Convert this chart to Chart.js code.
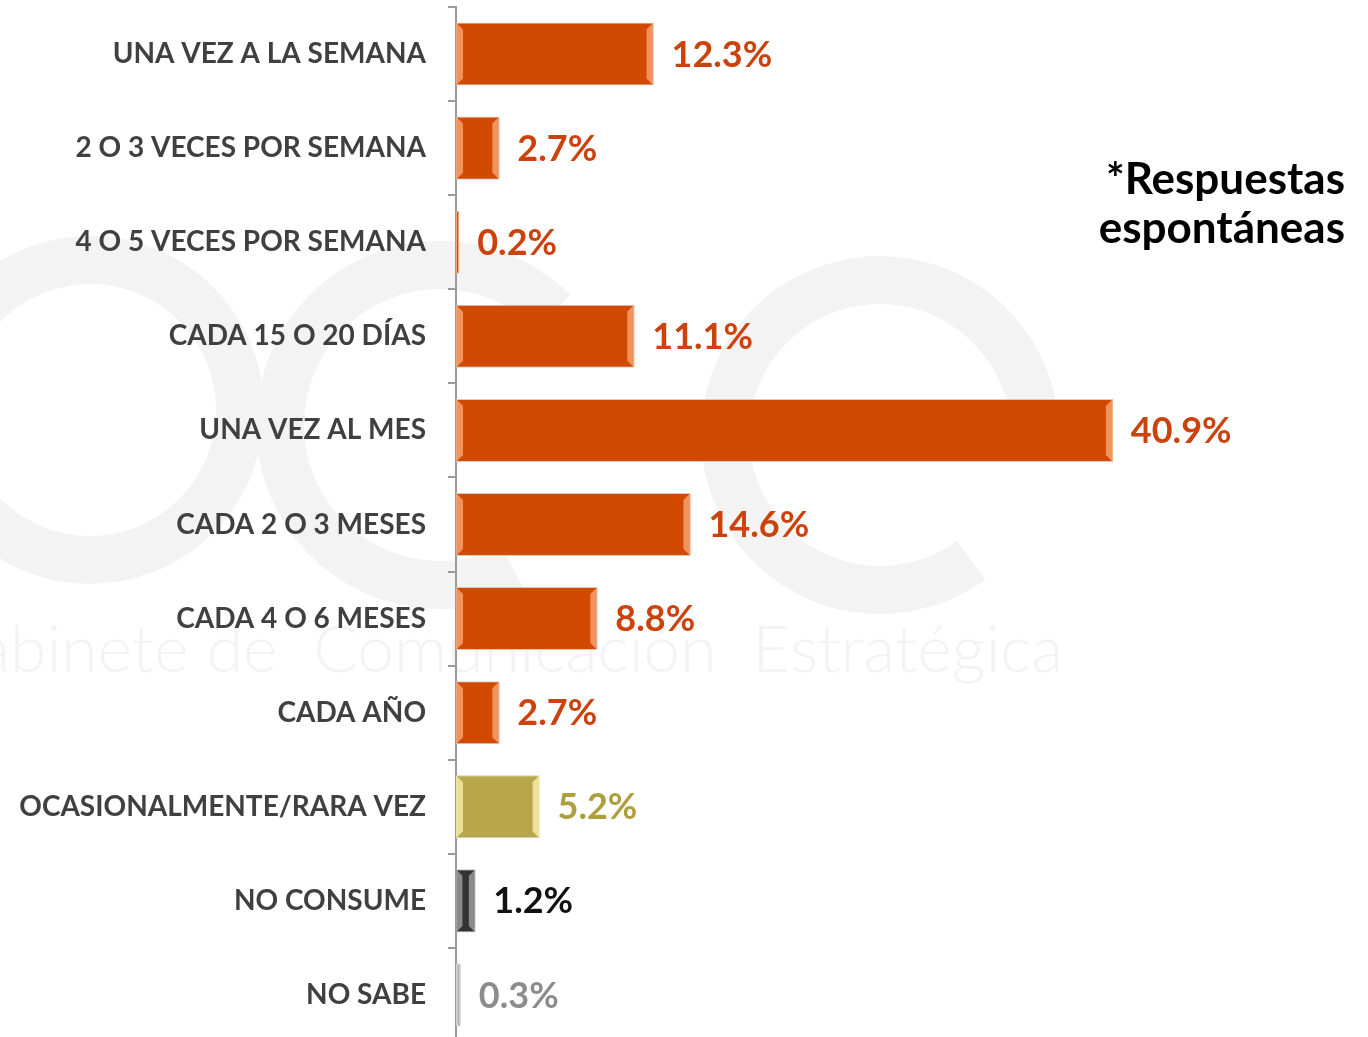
<!DOCTYPE html>
<html>
<head>
<meta charset="utf-8"/>
<script src="https://cdn.jsdelivr.net/npm/chart.js"></script>
<style>
  html, body { margin: 0; padding: 0; background: #ffffff; overflow: hidden; }
  #wrap { width: 1368px; height: 1045px; position: relative; }
</style>
</head>
<body>
<div id="wrap"><canvas id="myChart"></canvas></div>
<script>
// data
const categories = [
  "UNA VEZ A LA SEMANA",
  "2 O 3 VECES POR SEMANA",
  "4 O 5 VECES POR SEMANA",
  "CADA 15 O 20 DÍAS",
  "UNA VEZ AL MES",
  "CADA 2 O 3 MESES",
  "CADA 4 O 6 MESES",
  "CADA AÑO",
  "OCASIONALMENTE/RARA VEZ",
  "NO CONSUME",
  "NO SABE"
];
const values = [12.3, 2.7, 0.2, 11.1, 40.9, 14.6, 8.8, 2.7, 5.2, 1.2, 0.3];
const barColors = ["#d24a02","#d24a02","#d24a02","#d24a02","#d24a02","#d24a02","#d24a02","#d24a02","#b8a64c","#333333","#b4b4b4"];
const bevelColors = ["#f7a070","#f7a070","#f7a070","#f7a070","#f7a070","#f7a070","#f7a070","#f7a070","#f4eaa4","#9a9a9a","#d8d8d8"];
const labelColors = ["#cc420c","#cc420c","#cc420c","#cc420c","#cc420c","#cc420c","#cc420c","#cc420c","#ae9f3e","#111111","#8c8c8c"];
const noteLines = ["*Respuestas", "espontáneas"];

const FONT = "'Lato', 'DejaVu Sans', sans-serif";

// faint logo in the background
const watermark = {
  id: "watermark",
  beforeDraw(chart) {
    const c = chart.ctx;
    c.save();
    c.strokeStyle = "#f3f3f3";
    c.fillStyle = "#f3f3f3";
    c.lineWidth = 48;
    // g
    c.beginPath(); c.arc(90, 410, 150, 0, Math.PI * 2); c.stroke();
    // c
    c.beginPath(); c.arc(440, 425, 160, 0.35 * Math.PI, 1.75 * Math.PI); c.stroke();
    // e
    c.beginPath(); c.arc(880, 435, 155, 0.3 * Math.PI, 2 * Math.PI); c.stroke();
    c.fillRect(725, 420, 310, 40);
    c.font = "300 66px " + FONT;
    c.fillText("Gabinete de  Comunicación  Estratégica", -70, 672);
    c.restore();
  }
};

// light bevel strips at bar ends
const bevel = {
  id: "bevel",
  afterDatasetsDraw(chart) {
    const c = chart.ctx;
    const meta = chart.getDatasetMeta(0);
    meta.data.forEach((bar, i) => {
      const left = bar.base, right = bar.x;
      const top = bar.y - bar.height / 2, bot = bar.y + bar.height / 2;
      const w = right - left;
      const b = Math.min(7, w / 3);
      if (b < 1) return;
      c.save();
      c.fillStyle = bevelColors[i];
      c.globalAlpha = 0.85;
      c.beginPath();
      c.moveTo(left, top); c.lineTo(left + b, top + b); c.lineTo(left + b, bot - b); c.lineTo(left, bot);
      c.closePath(); c.fill();
      c.beginPath();
      c.moveTo(right, top); c.lineTo(right - b, top + b); c.lineTo(right - b, bot - b); c.lineTo(right, bot);
      c.closePath(); c.fill();
      c.restore();
    });
  }
};

// value labels and side note
const valueLabels = {
  id: "valueLabels",
  afterDraw(chart) {
    const c = chart.ctx;
    const meta = chart.getDatasetMeta(0);
    c.save();
    c.font = "bold 36px " + FONT;
    c.textAlign = "left";
    c.textBaseline = "middle";
    meta.data.forEach((bar, i) => {
      c.fillStyle = labelColors[i];
      c.fillText(values[i].toFixed(1) + "%", bar.x + 18, bar.y + 1);
    });
    c.fillStyle = "#000000";
    c.font = "bold 44px " + FONT;
    c.textAlign = "right";
    c.fillText(noteLines[0], 1345, 180);
    c.fillText(noteLines[1], 1345, 229);
    c.restore();
  }
};

const ctx = document.getElementById("myChart").getContext("2d");
new Chart(ctx, {
  type: "bar",
  data: {
    labels: categories,
    datasets: [{
      data: values,
      backgroundColor: barColors,
      borderColor: "rgba(200,200,200,0.9)",
      borderWidth: 1,
      borderSkipped: false,
      barPercentage: 0.67,
      categoryPercentage: 1
    }]
  },
  options: {
    indexAxis: "y",
    responsive: true,
    maintainAspectRatio: false,
    animation: false,
    layout: { padding: { top: 7, bottom: 3, left: 0, right: 109 } },
    plugins: { legend: { display: false }, tooltip: { enabled: false } },
    scales: {
      x: {
        display: false,
        min: 0,
        max: 50
      },
      y: {
        afterFit(scale) {
          scale.width = 456;
          scale.paddingTop = 0;
          scale.paddingBottom = 0;
        },
        grid: {
          offset: true,
          drawOnChartArea: false,
          drawTicks: true,
          tickLength: 8,
          color: "#9a9a9a",
          lineWidth: 2
        },
        border: { display: true, color: "#9a9a9a", width: 2 },
        ticks: {
          color: "#404040",
          padding: 22,
          font: { family: FONT, size: 28, weight: "bold" }
        }
      }
    }
  },
  plugins: [watermark, bevel, valueLabels]
});
</script>
</body>
</html>
